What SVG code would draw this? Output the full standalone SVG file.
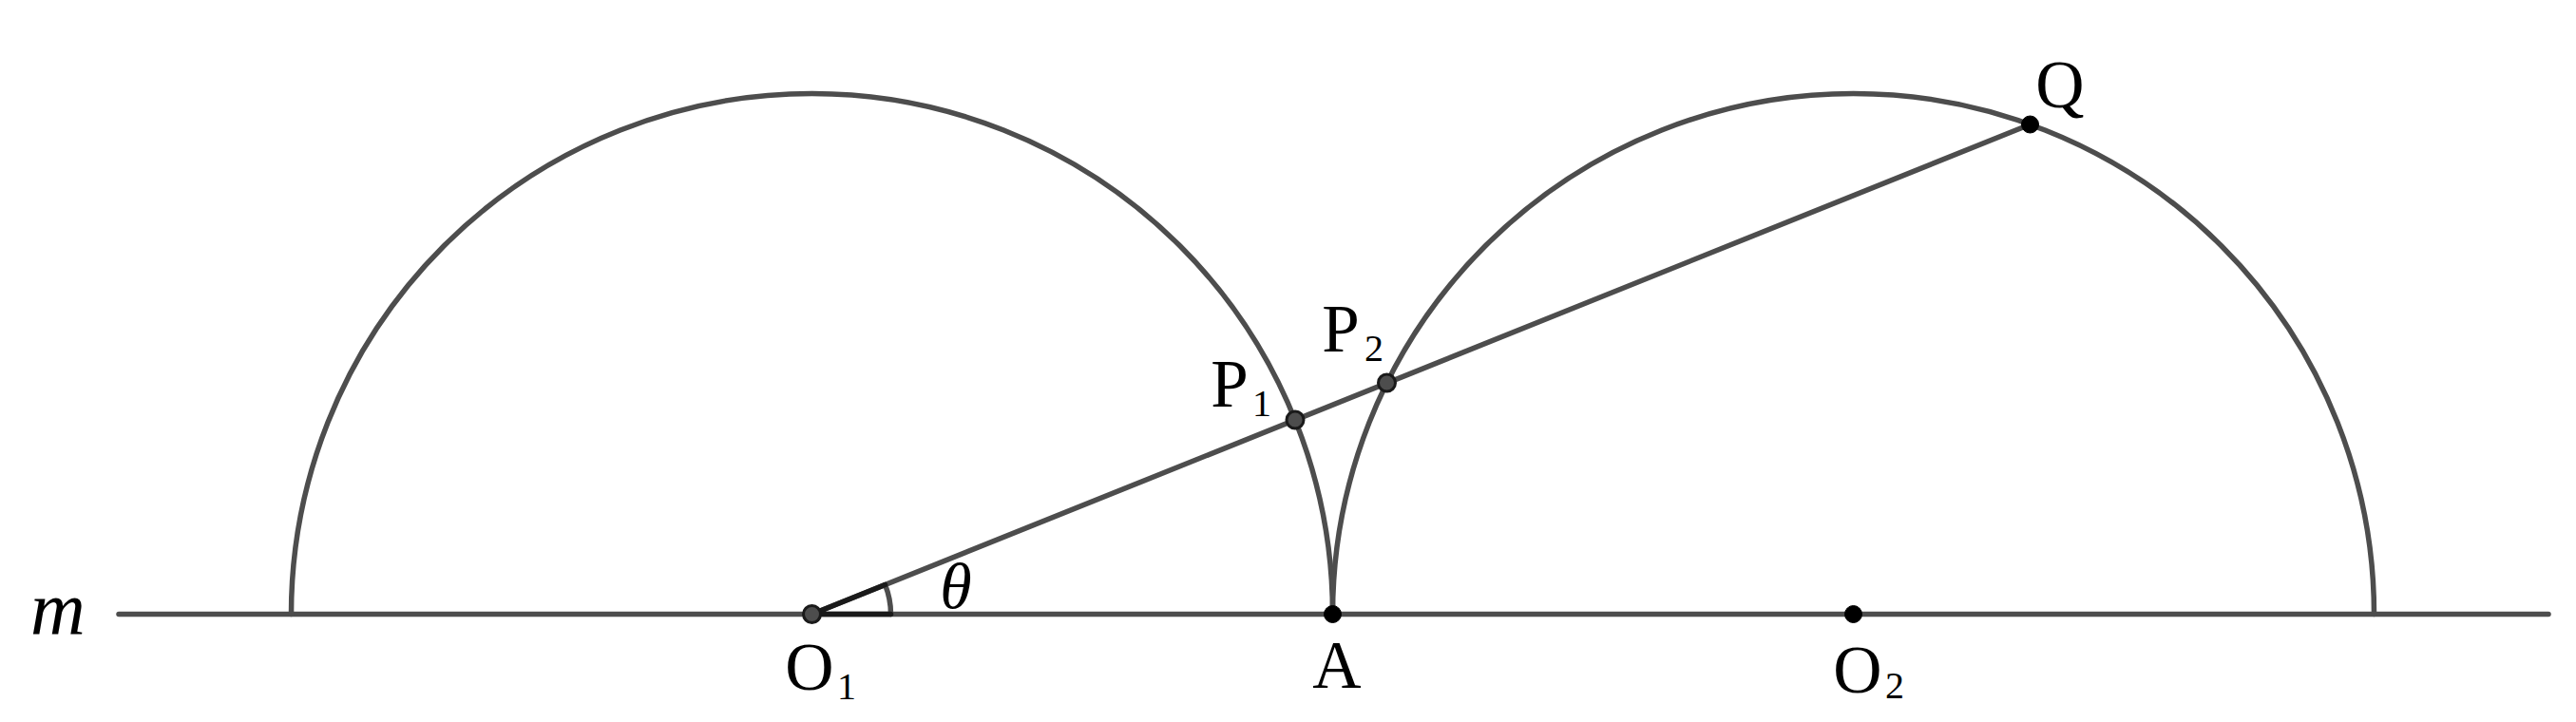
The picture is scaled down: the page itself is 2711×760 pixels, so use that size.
<svg xmlns="http://www.w3.org/2000/svg" width="2711" height="760" viewBox="0 0 2711 760">
<style>
.ln{fill:none;stroke:#4d4d4d;stroke-width:5.5;stroke-linecap:round}
.dk{fill:none;stroke:#1a1a1a;stroke-width:5.5;stroke-linecap:round}
.pg{fill:#4d4d4d;stroke:#1a1a1a;stroke-width:3}
.pb{fill:#000;stroke:#000;stroke-width:1}
.lb{font-family:"Liberation Serif","DejaVu Serif",serif;font-size:71px;fill:#000;text-anchor:middle}
.sb{font-family:"Liberation Serif","DejaVu Serif",serif;font-size:40px;fill:#000;text-anchor:middle}
.it{font-family:"Liberation Serif","DejaVu Serif",serif;font-style:italic;fill:#000;text-anchor:middle}
</style>
<rect width="2711" height="760" fill="#fff"/>
<g id="connectors">
<line class="ln" x1="125" y1="646.5" x2="2682" y2="646.5"/>
<path class="ln" d="M306.5 646.5 A548 548 0 0 1 1402.5 646.5"/>
<path class="ln" d="M1402.5 646.5 A548 548 0 0 1 2498.5 646.5"/>
<line class="ln" x1="854.5" y1="646.5" x2="2136.5" y2="131"/>
<path class="ln" d="M937.5 646.5 A83 83 0 0 0 931.5 615.5"/>
<path class="dk" d="M937.5 646.5 L854.5 646.5 L931.5 615.5"/>
</g>
<g id="line-m"><text class="it" x="61" y="667" font-size="80">m</text></g>
<g id="theta"><text class="it" x="1006" y="640" font-size="68">θ</text></g>
<g id="O1">
<circle class="pg" cx="854.5" cy="646.5" r="9"/>
<text class="lb" x="852" y="726">O</text><text class="sb" x="891" y="736">1</text>
</g>
<g id="A">
<circle class="pb" cx="1402.5" cy="646.5" r="9"/>
<text class="lb" x="1407" y="724">A</text>
</g>
<g id="O2">
<circle class="pb" cx="1950.5" cy="646.5" r="9"/>
<text class="lb" x="1955" y="729">O</text><text class="sb" x="1994" y="735">2</text>
</g>
<g id="P1">
<circle class="pg" cx="1363" cy="442" r="9"/>
<text class="lb" x="1294" y="428">P</text><text class="sb" x="1328" y="438">1</text>
</g>
<g id="P2">
<circle class="pg" cx="1459.5" cy="403" r="9"/>
<text class="lb" x="1411" y="370">P</text><text class="sb" x="1446" y="380">2</text>
</g>
<g id="Q">
<circle class="pb" cx="2136.5" cy="131" r="9"/>
<text class="lb" x="2168" y="113">Q</text>
</g>
</svg>
